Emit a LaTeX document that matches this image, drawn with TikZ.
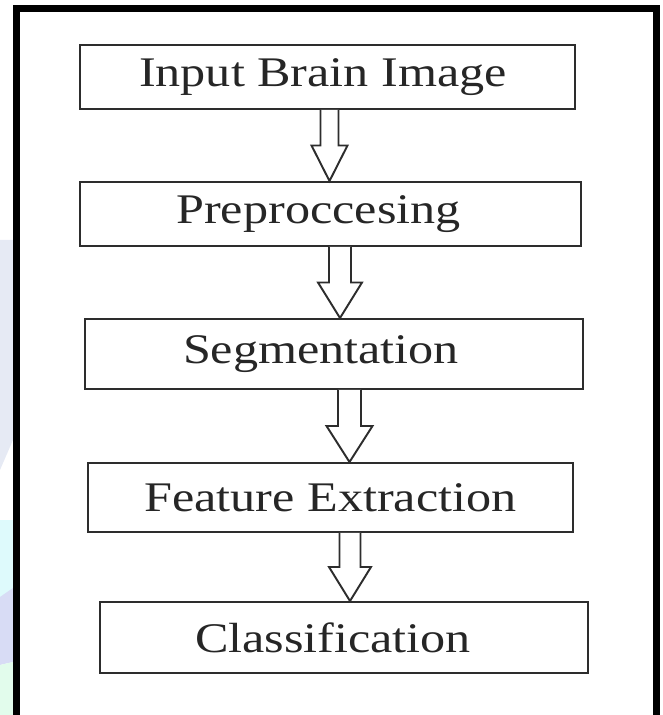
\documentclass[tikz,border=0pt]{standalone}
\usepackage{fontspec}
\setmainfont{Liberation Serif}[FakeStretch=1.19]
\usetikzlibrary{calc}
\definecolor{boxGray}{RGB}{45,45,45}
\definecolor{wmGrey}{RGB}{230,234,244}
\definecolor{wmCyan}{RGB}{222,250,252}
\definecolor{wmLav}{RGB}{216,220,245}
\definecolor{wmGreen}{RGB}{226,252,236}
\tikzset{
  stepbox/.style={draw=boxGray, line width=1.1pt, inner sep=0pt, font=\fontsize{24}{28}\selectfont, text=black!85},
  arrowline/.style={draw=boxGray, line width=1.1pt, fill=white, line join=miter},
}
% hollow block arrow: from node, to node, x of axis (cm), shaft half width (cm)
\newcommand{\hollowarrow}[4]{%
  \draw[arrowline] let \p1=(#1.south), \p2=(#2.north) in
    ({#3cm-#4cm},\y1) -- ({#3cm-#4cm},{(\y1+\y2)/2}) -- ({#3cm-2*#4cm},{(\y1+\y2)/2})
    -- (#3cm,\y2) -- ({#3cm+2*#4cm},{(\y1+\y2)/2}) -- ({#3cm+#4cm},{(\y1+\y2)/2})
    -- ({#3cm+#4cm},\y1);}

\begin{document}
\begin{tikzpicture}
  \useasboundingbox (0,0) rectangle (13.26,14.3);
  % faint watermark left of the frame
  \fill[wmGrey] (0,9.5) -- (0.26,9.5) -- (0.26,5.5) -- (0,4.9) -- cycle;
  \fill[wmCyan] (0,3.9) rectangle (0.26,2.3);
  \fill[wmLav] (0,2.36) -- (0.26,2.54) -- (0.26,1.06) -- (0,1.0) -- cycle;
  \fill[wmGreen] (0,1.0) -- (0.26,1.06) -- (0.26,0) -- (0,0) -- cycle;
  % outer frame
  \draw[line width=0.14cm] (0.33,-0.3) -- (0.33,14.12) -- (13.12,14.12) -- (13.12,-0.3);
  % steps
  \node[stepbox, minimum width=9.9cm, minimum height=1.28cm] (input) at (6.55,12.76) {Input Brain Image\kern0.18cm};
  \node[stepbox, minimum width=10.02cm, minimum height=1.28cm] (prep) at (6.61,10.02) {Preproccesing\kern0.48cm};
  \node[stepbox, minimum width=9.96cm, minimum height=1.4cm] (segm) at (6.68,7.22) {Segmentation\kern0.52cm};
  \node[stepbox, minimum width=9.7cm, minimum height=1.38cm] (feat) at (6.61,4.35) {Feature Extraction};
  \node[stepbox, minimum width=9.76cm, minimum height=1.42cm] (class) at (6.88,1.55) {Classification\kern0.44cm};
  % arrows
  \hollowarrow{input}{prep}{6.59}{0.18}
  \hollowarrow{prep}{segm}{6.8}{0.22}
  \hollowarrow{segm}{feat}{6.99}{0.23}
  \hollowarrow{feat}{class}{7.0}{0.21}
\end{tikzpicture}
\end{document}
